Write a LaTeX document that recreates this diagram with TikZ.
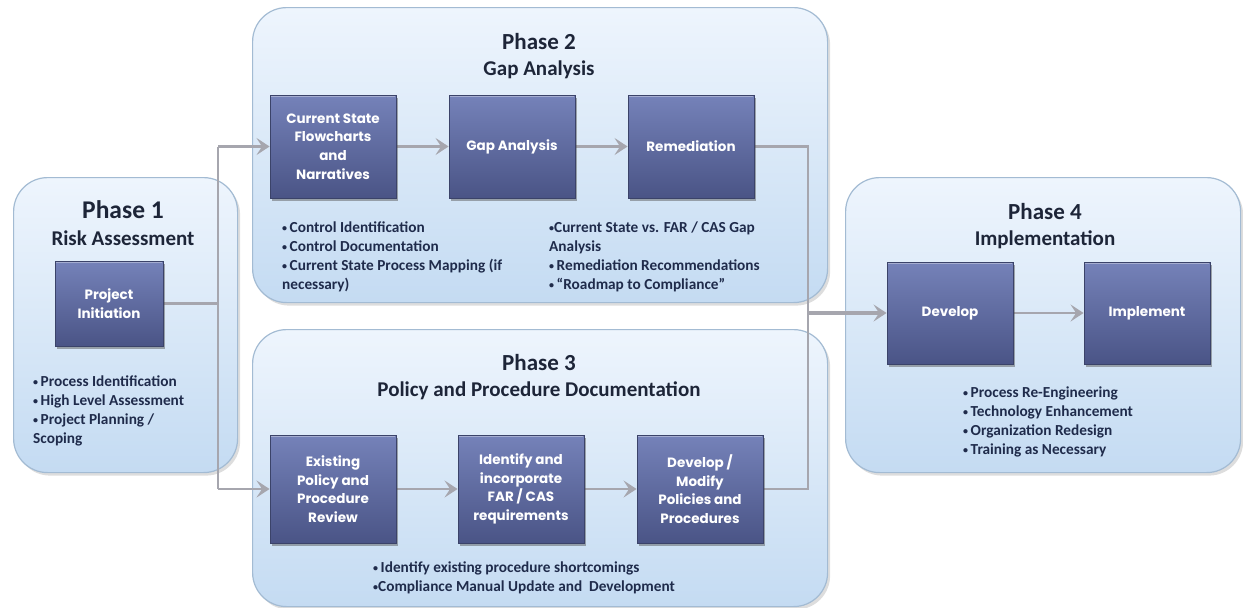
\documentclass[tikz,border=0pt]{standalone}
\usepackage{fontspec}
\setmainfont{Carlito}
\newfontfamily\gothicfam{Poppins}
\usetikzlibrary{shadows,arrows.meta,calc}

\definecolor{phasetop}{HTML}{EEF5FD}
\definecolor{phasebot}{HTML}{C4DBF2}
\definecolor{phaseedge}{HTML}{A3BBD3}
\definecolor{boxtop}{HTML}{7582B9}
\definecolor{boxbot}{HTML}{4A5486}
\definecolor{boxedge}{HTML}{3B4369}
\definecolor{conncol}{HTML}{A6A6AE}
\definecolor{titlecol}{HTML}{1D2538}
\definecolor{bulcol}{HTML}{1F2B4B}

\newcommand\gothicbold{\gothicfam\bfseries\fontsize{13.5}{18.7}\selectfont}
% small bullet, with and without a following gap
\newcommand\bn{\raisebox{0.15ex}{\fontsize{10}{10}\selectfont•}}
\newcommand\bu{\bn\,}

\pgfdeclarelayer{panels}
\pgfdeclarelayer{links}
\pgfsetlayers{panels,links,main}

\begin{document}
\begin{tikzpicture}[x=1pt,y=-1pt,
  phase/.style={draw=phaseedge, line width=1.2pt, rounded corners=34pt,
    top color=phasetop, bottom color=phasebot, anchor=north west, inner sep=0pt,
    drop shadow={shadow xshift=2.5pt, shadow yshift=-3pt, opacity=0.22, fill=black!60}},
  stepbox/.style={draw=boxedge, line width=0.9pt, top color=boxtop, bottom color=boxbot,
    minimum width=126pt, minimum height=103pt, inner sep=2pt, text=white,
    font=\gothicbold, align=center,
    drop shadow={shadow xshift=2pt, shadow yshift=-2.5pt, opacity=0.45, fill=black!70},
    path picture={\draw[white, opacity=0.35, line width=2pt]
      ([xshift=1pt,yshift=-1pt]path picture bounding box.north west) --
      ([xshift=-1pt,yshift=-1pt]path picture bounding box.north east);}},
  ptitle/.style={font=\fontsize{23}{28}\selectfont\bfseries, text=titlecol, anchor=base, inner sep=0pt},
  psub/.style={font=\fontsize{21}{25}\selectfont\bfseries, text=titlecol, anchor=base, inner sep=0pt},
  bullets/.style={font=\fontsize{15.3}{19}\selectfont\bfseries, text=bulcol, align=left,
    anchor=north west, inner sep=0pt},
  conn/.style={draw=conncol, line width=2.6pt},
  arr/.style={conn, -{Stealth[length=13pt, width=17pt, inset=5.5pt]}},
]
\useasboundingbox (0,0) rectangle (1243,608);

% phase panels
\begin{pgfonlayer}{panels}
\node[phase, minimum width=224pt, minimum height=295pt] (p1) at (13,177) {};
\node[phase, minimum width=575pt, minimum height=295pt] (p2) at (252,7) {};
\node[phase, minimum width=575pt, minimum height=277pt] (p3) at (252,329) {};
\node[phase, minimum width=395pt, minimum height=295pt] (p4) at (845,177) {};
\end{pgfonlayer}

% panel headings
\node[ptitle, font=\fontsize{25.5}{30}\selectfont\bfseries] (t1) at (123,218) {Phase 1};
\node[psub] (s1) at (123,245) {Risk Assessment};
\node[ptitle] (t2) at (539,49.5) {Phase 2};
\node[psub] (s2) at (539,75) {Gap Analysis};
\node[ptitle] (t3) at (539,370.5) {Phase 3};
\node[psub] (s3) at (539,396) {Policy and Procedure Documentation};
\node[ptitle] (t4) at (1045,219.5) {Phase 4};
\node[psub] (s4) at (1045,245) {Implementation};

% junction columns
\coordinate (lx) at (218,0);
\coordinate (rx) at (808,0);

% process steps
\node[stepbox, minimum width=108pt, minimum height=85pt] (pi) at (109,303.5) {Project\\Initiation};
\node[stepbox] (cs) at (333,146.5) {Current State\\Flowcharts\\and\\Narratives};
\node[stepbox] (ga) at (512,146.5) {Gap Analysis};
\node[stepbox] (rem) at (691,146.5) {Remediation};
\node[stepbox, minimum height=108pt] (ex) at (333,489) {Existing\\Policy and\\Procedure\\Review};
\node[stepbox, minimum height=108pt] (id) at (521,489) {Identify and\\incorporate\\FAR / CAS\\requirements};
\node[stepbox, minimum height=108pt] (dm) at (700,489) {Develop /\\Modify\\Policies and\\Procedures};
\node[stepbox, minimum height=102pt] (dev) at (950,313) {Develop};
\node[stepbox, minimum height=102pt] (imp) at (1147,313) {Implement};

% connectors, under the steps
\begin{pgfonlayer}{links}
\draw[conn] (pi.east) -- (pi.east -| lx);
\draw[conn] (cs.west -| lx) -- (ex.west -| lx);
\draw[arr] (cs.west -| lx) -- (cs.west);
\draw[arr] (ex.west -| lx) -- (ex.west);
\draw[arr] (cs) -- (ga);
\draw[arr] (ga) -- (rem);
\draw[arr] (ex) -- (id);
\draw[arr] (id) -- (dm);
\draw[conn] (rem.east) -- (rem.east -| rx) -- (dm.east -| rx) -- (dm.east);
\draw[arr, line width=3.4pt] (dev.west -| rx) -- (dev.west);
\draw[arr] (dev) -- (imp);
\end{pgfonlayer}

% notes
\node[bullets] (b1) at (33,376) {\bu Process Identification\\\bu High Level Assessment\\\bu Project Planning /\\Scoping};
\node[bullets] (b2) at (282,222) {\bu Control Identification\\\bu Control Documentation\\\bu Current State Process Mapping (if\\necessary)};
\node[bullets] (b3) at (549,222) {\bn Current State vs. FAR / CAS Gap\\Analysis\\\bu Remediation Recommendations\\\bu “Roadmap to Compliance”};
\node[bullets] (b4) at (373,562) {\bu Identify existing procedure shortcomings\\\bn Compliance Manual Update and~ Development};
\node[bullets] (b5) at (963,387) {\bu Process Re-Engineering\\\bu Technology Enhancement\\\bu Organization Redesign\\\bu Training as Necessary};
\end{tikzpicture}
\end{document}
